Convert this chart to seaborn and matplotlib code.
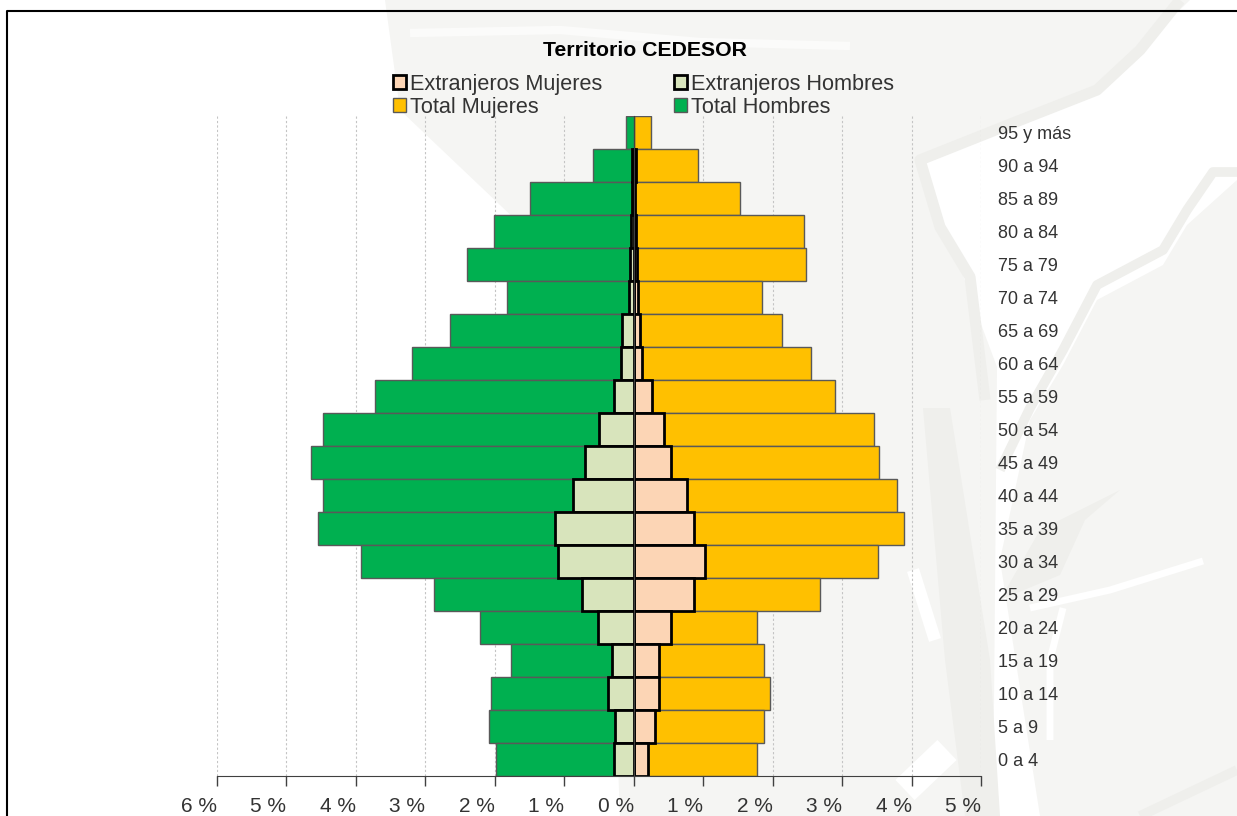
# Piramide de poblacion, territorio CEDESOR

import numpy as np
import seaborn as sns
import matplotlib.pyplot as plt
from matplotlib.lines import Line2D
from matplotlib.patches import Patch, Polygon
from matplotlib.transforms import IdentityTransform

grupos = ['95 y más', '90 a 94', '85 a 89', '80 a 84', '75 a 79', '70 a 74', '65 a 69',
          '60 a 64', '55 a 59', '50 a 54', '45 a 49', '40 a 44', '35 a 39', '30 a 34',
          '25 a 29', '20 a 24', '15 a 19', '10 a 14', '5 a 9', '0 a 4']
total_mujeres = [0.25, 0.93, 1.53, 2.45, 2.48, 1.85, 2.14, 2.55, 2.90, 3.46,
                 3.53, 3.79, 3.89, 3.52, 2.68, 1.78, 1.88, 1.96, 1.88, 1.78]
total_hombres = [-0.11, -0.58, -1.49, -2.01, -2.40, -1.82, -2.65, -3.19, -3.72, -4.48,
                 -4.64, -4.48, -4.55, -3.92, -2.87, -2.21, -1.76, -2.06, -2.08, -1.98]
extr_mujeres = [np.nan, 0.03, 0.02, 0.03, 0.05, 0.06, 0.09, 0.12, 0.27, 0.44,
                0.54, 0.77, 0.87, 1.02, 0.87, 0.53, 0.37, 0.37, 0.30, 0.20]
extr_hombres = [np.nan, -0.03, -0.03, -0.04, -0.06, -0.07, -0.17, -0.19, -0.29, -0.50,
                -0.70, -0.88, -1.14, -1.09, -0.75, -0.52, -0.31, -0.37, -0.27, -0.28]
xticks = [-6, -5, -4, -3, -2, -1, 0, 1, 2, 3, 4, 5]
xlabels = ['6 %', '5 %', '4 %', '3 %', '2 %', '1 %', '0 %', '1 %', '2 %', '3 %', '4 %', '5 %']

sns.set_style('white')
plt.rcParams['font.family'] = ['Liberation Sans', 'DejaVu Sans']

W, H = 1237, 816
PALIDO = '#F5F5F3'
BANDA = '#EFEFEC'
fig = plt.figure(figsize=(W / 100, H / 100), dpi=100)

# fondo: plano de agua muy claro detras del grafico
def px(pts):
    return [(x, H - y) for x, y in pts]

zonas = [
    ([(385, 0), (1190, 0), (1097, 90), (920, 160), (997, 367), (993, 816), (620, 816),
      (600, 300), (400, 110)], PALIDO),
    ([(1237, 180), (1187, 225), (1163, 265), (1097, 300), (1063, 365), (1030, 420), (1000, 560),
      (1040, 816), (1237, 816)], PALIDO),
    ([(923, 408), (950, 408), (990, 660), (1000, 816), (965, 816), (945, 660)], BANDA),
    ([(1120, 490), (1085, 520), (1060, 575), (1000, 600), (1040, 530)], BANDA),
]
for zona, color in zonas:
    fig.add_artist(Polygon(px(zona), closed=True, fc=color, ec='none',
                           transform=IdentityTransform(), zorder=-3))

bandas = [
    ([(1180, 0), (1140, 50), (1097, 90), (1013, 123), (920, 160), (940, 227), (970, 277),
      (985, 400)], BANDA, 8),
    ([(1237, 172), (1213, 172), (1187, 210), (1163, 250), (1097, 285), (1063, 350), (1030, 408),
      (1000, 470)], BANDA, 7),
    ([(410, 33), (560, 30), (700, 42), (850, 46)], '#FBFBFA', 6),
    ([(1030, 608), (1110, 590), (1203, 561)], 'white', 5),
    ([(1063, 608), (1050, 660), (1050, 740)], 'white', 5),
    ([(913, 570), (935, 640)], 'white', 9),
    ([(905, 790), (947, 750)], 'white', 20),
    ([(1237, 770), (1140, 816)], BANDA, 7),
]
for pts, color, ancho in bandas:
    fig.add_artist(Line2D(*zip(*px(pts)), color=color, lw=ancho, solid_capstyle='butt',
                          transform=IdentityTransform(), zorder=-2))

# marco negro
fig.add_artist(Line2D([7 / W, 7 / W, 1], [0, 1 - 11 / H, 1 - 11 / H], color='black', lw=1.5))

ax = fig.add_axes([217 / W, (H - 776) / H, (981 - 217) / W, (776 - 116) / H])
ax.patch.set_alpha(0)

borde = '#595959'
sns.barplot(x=total_mujeres, y=grupos, order=grupos, orient='h', color='#FFC000', saturation=1,
            width=1, edgecolor=borde, linewidth=1, ax=ax)
sns.barplot(x=total_hombres, y=grupos, order=grupos, orient='h', color='#00B050', saturation=1,
            width=1, edgecolor=borde, linewidth=1, ax=ax)
sns.barplot(x=extr_mujeres, y=grupos, order=grupos, orient='h', color='#FCD5B5', saturation=1,
            width=1, edgecolor='black', linewidth=2, ax=ax)
sns.barplot(x=extr_hombres, y=grupos, order=grupos, orient='h', color='#D8E4BC', saturation=1,
            width=1, edgecolor='black', linewidth=2, ax=ax)

ax.set_xlim(-6, 5)
ax.set_ylim(19.5, -0.5)
ax.set_xlabel('')
ax.set_ylabel('')
ax.set_xticks(xticks)
ax.set_xticklabels(xlabels, ha='right', fontsize=15, color='#333333')
ax.tick_params(axis='x', length=7, width=1, color='#404040', pad=8, bottom=True)
ax.tick_params(axis='y', length=3, width=1, color='#404040', left=True, labelleft=False)
ax.xaxis.grid(True, ls=(0, (2, 2)), lw=0.8, color='#C4C4C4')
ax.yaxis.grid(False)
ax.set_axisbelow(True)

sns.despine(ax=ax, top=True, right=True)
ax.spines['left'].set_position(('data', 0))
ax.spines['left'].set_color('#404040')
ax.spines['bottom'].set_color('#404040')

# las etiquetas de edad van a la derecha del grafico
for i, g in enumerate(grupos):
    ax.text(1.022, i + 0.06, g, transform=ax.get_yaxis_transform(), ha='left', va='center',
            fontsize=13, color='#333333')

fig.text(645 / W, 1 - 51 / H, 'Territorio CEDESOR', ha='center', va='center',
         fontsize=15.3, fontweight='bold', color='black')

handles = [Patch(fc='#FCD5B5', ec='black', lw=2), Patch(fc='#FFC000', ec=borde, lw=1),
           Patch(fc='#D8E4BC', ec='black', lw=2), Patch(fc='#00B050', ec=borde, lw=1)]
etiquetas = ['Extranjeros Mujeres', 'Total Mujeres', 'Extranjeros Hombres', 'Total Hombres']
fig.legend(handles, etiquetas, ncol=2, loc='upper left', bbox_to_anchor=(393 / W, 1 - 74 / H),
           frameon=False, fontsize=15.6, labelspacing=0.08, handlelength=0.6, handleheight=0.6,
           handletextpad=0.2, columnspacing=3.3, borderpad=0, borderaxespad=0,
           labelcolor='#333333')

plt.savefig('out.png', dpi=100)
